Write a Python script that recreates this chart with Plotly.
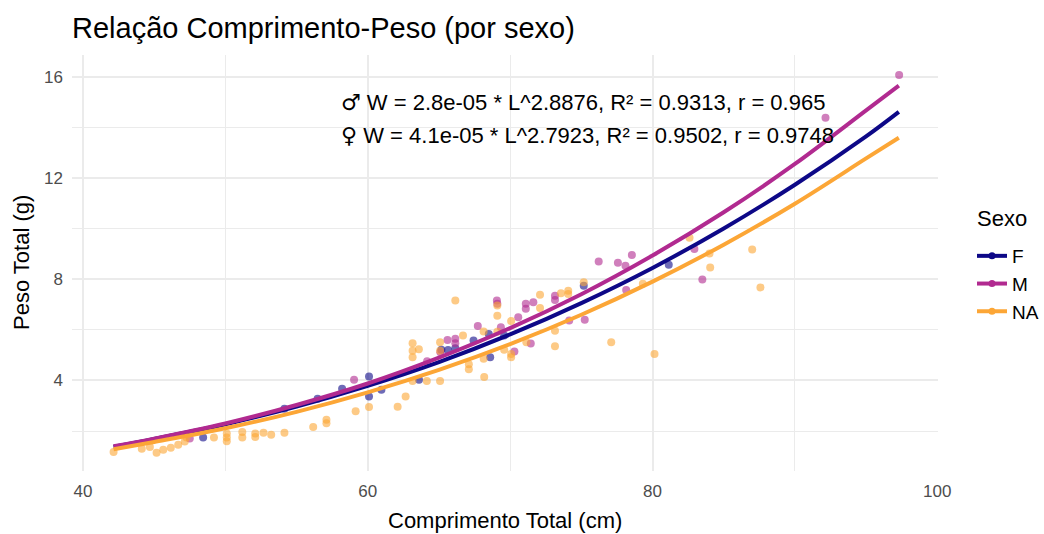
import plotly.graph_objects as go

# ---- data ----
F_x = [48.44, 54.15, 56.48, 58.2, 60.09, 60.09, 60.96, 63.6, 65.17, 65.64,
       66.15, 67.43, 68.5, 68.6, 69.58, 75.17, 81.14]
F_y = [1.74, 2.88, 3.28, 3.67, 4.16, 3.37, 3.63, 4.03, 5.21, 5.2,
       5.27, 5.58, 5.84, 4.92, 5.78, 7.75, 8.58]

M_x = [47.5, 59.04, 64.17, 65.1, 65.6, 66.15, 66.15, 67.73, 69.07, 69.1,
       69.35, 70.3, 70.57, 71.1, 71.1, 71.63, 71.45, 73.15, 73.15, 74.15,
       75.24, 76.22, 77.57, 78.1, 78.55, 78.15, 82.94, 83.5, 92.15, 97.32]
M_y = [1.71, 4.03, 4.76, 5.12, 5.6, 5.65, 5.47, 6.15, 7.16, 7.03,
       6.1, 5.15, 6.5, 7.03, 6.84, 7.09, 5.46, 7.35, 7.18, 6.37,
       6.4, 8.7, 8.65, 8.54, 8.96, 7.58, 9.2, 7.99, 14.39, 16.08]

NA_x = [42.15, 44.13, 44.7, 45.17, 45.64, 46.17, 46.69, 47.15, 47.27, 49.2,
        50.1, 50.1, 50.1, 51.19, 51.19, 52.1, 52.1, 52.68, 53.22, 54.15,
        56.17, 57.1, 57.1, 59.15, 60.09, 62.1, 62.66, 63.15, 63.15, 63.15,
        63.59, 63.15, 64.15, 65.08, 65.08, 65.08, 66.15, 66.69, 67.1, 67.1,
        68.14, 68.14, 68.18, 69.1, 69.1, 69.1, 69.58, 70.07, 70.07, 70.07,
        71.14, 72.1, 72.1, 73.15, 73.15, 73.57, 74.08, 74.08, 75.17, 77.1,
        79.32, 80.14, 82.6, 84.05, 84.0, 87.0, 87.58]
NA_y = [1.17, 1.30, 1.37, 1.14, 1.26, 1.34, 1.46, 1.59, 1.74, 1.74,
        1.9, 1.74, 1.6, 1.96, 1.74, 1.9, 1.76, 1.93, 1.85, 1.93,
        2.16, 2.45, 2.31, 2.78, 2.95, 2.96, 3.37, 5.47, 5.18, 4.92,
        5.23, 3.98, 3.98, 5.51, 5.18, 3.98, 7.16, 5.78, 4.64, 4.44,
        5.94, 4.86, 4.14, 6.96, 6.56, 5.93, 5.21, 6.35, 5.05, 4.92,
        5.51, 7.39, 6.87, 5.97, 5.35, 7.45, 7.55, 7.42, 7.88, 5.51,
        7.82, 5.05, 9.64, 8.47, 9.02, 9.18, 7.68]

# fitted curves
curve_x = [42.15, 45, 50, 55, 60, 65, 70, 75, 80, 85, 90, 95, 97.3]
curve_F = [1.38, 1.69, 2.27, 2.97, 3.79, 4.73, 5.82, 7.06, 8.45, 10.01, 11.74, 13.65, 14.62]
curve_M = [1.40, 1.70, 2.30, 3.03, 3.88, 4.90, 6.07, 7.41, 8.94, 10.65, 12.56, 14.68, 15.66]
curve_NA = [1.28, 1.57, 2.11, 2.76, 3.53, 4.42, 5.44, 6.60, 7.91, 9.37, 10.99, 12.78, 13.6]

labels = ["F", "M", "NA"]
colors = {"F": "#0D0887", "M": "#B12A90", "NA": "#FCA636"}

SYM = "<span style=\"font-family:'DejaVu Sans'\">{}</span>"
eq_male = SYM.format("♂") + " W = 2.8e-05 * L^2.8876, R² = 0.9313, r = 0.965"
eq_female = SYM.format("♀") + " W = 4.1e-05 * L^2.7923, R² = 0.9502, r = 0.9748"

FONT = "Liberation Sans, Arial, DejaVu Sans, sans-serif"
W, H = 1044, 534
ML, MR, MT, MB = 72, 106, 55, 63


def px_to_paper(x, y):
    # container pixel -> paper coords of the plot area
    return (x - ML) / (W - ML - MR), (H - MB - y) / (H - MT - MB)


fig = go.Figure()

points = {"F": (F_x, F_y), "M": (M_x, M_y), "NA": (NA_x, NA_y)}
curves = {"F": curve_F, "M": curve_M, "NA": curve_NA}

for lab in labels:
    px_, py_ = points[lab]
    fig.add_trace(go.Scatter(
        x=px_, y=py_, mode="markers", showlegend=False,
        marker=dict(size=8, color=colors[lab], opacity=0.6, line=dict(width=0)),
    ))

for lab in labels:
    fig.add_trace(go.Scatter(
        x=curve_x, y=curves[lab], mode="lines", showlegend=False,
        line=dict(color=colors[lab], width=4, shape="spline"),
    ))

# legend keys (line + point, as in the original)
for lab in labels:
    fig.add_trace(go.Scatter(
        x=[None], y=[None], mode="lines+markers", name=lab,
        legendgroup=lab,
        line=dict(color=colors[lab], width=4),
        marker=dict(size=7, color=colors[lab]),
    ))

fig.add_annotation(x=57.95, y=15.01, xref="x", yref="y", text=eq_male,
                   showarrow=False, xanchor="left", yanchor="middle",
                   font=dict(family=FONT, size=22, color="#000000"))
fig.add_annotation(x=57.95, y=13.67, xref="x", yref="y", text=eq_female,
                   showarrow=False, xanchor="left", yanchor="middle",
                   font=dict(family=FONT, size=22, color="#000000"))

# axis titles and legend title placed in pixels
ax, ay = px_to_paper(505, 520)
fig.add_annotation(x=ax, y=ay, xref="paper", yref="paper",
                   text="Comprimento Total (cm)", showarrow=False,
                   xanchor="center", yanchor="middle",
                   font=dict(family=FONT, size=22, color="#000000"))
ax, ay = px_to_paper(21, 263)
fig.add_annotation(x=ax, y=ay, xref="paper", yref="paper",
                   text="Peso Total (g)", showarrow=False, textangle=-90,
                   xanchor="center", yanchor="middle",
                   font=dict(family=FONT, size=22, color="#000000"))
ax, ay = px_to_paper(975, 218)
fig.add_annotation(x=ax, y=ay, xref="paper", yref="paper",
                   text="Sexo", showarrow=False,
                   xanchor="left", yanchor="middle",
                   font=dict(family=FONT, size=22, color="#000000"))

lx, ly = px_to_paper(972, 237)

grid = "#EBEBEB"
fig.update_layout(
    width=W, height=H,
    paper_bgcolor="white", plot_bgcolor="white",
    font=dict(family=FONT, color="#000000"),
    margin=dict(l=ML, r=MR, t=MT, b=MB, autoexpand=False),
    title=dict(text="Relação Comprimento-Peso (por sexo)",
               x=72 / W, xanchor="left", xref="container",
               y=1 - 28 / H, yanchor="middle", yref="container",
               font=dict(family=FONT, size=29, color="#000000")),
    xaxis=dict(range=[39.23, 100.05], tick0=0, dtick=20,
               showgrid=True, gridcolor=grid, gridwidth=2.4,
               zeroline=False, showline=False, ticks="", automargin=False,
               ticklabelstandoff=8,
               tickfont=dict(size=17, color="#4D4D4D"),
               minor=dict(dtick=10, showgrid=True, gridcolor=grid, gridwidth=1.3)),
    yaxis=dict(range=[0.42, 16.87], tick0=0, dtick=4,
               showgrid=True, gridcolor=grid, gridwidth=2.4,
               zeroline=False, showline=False, ticks="", automargin=False,
               ticklabelstandoff=8,
               tickfont=dict(size=17, color="#4D4D4D"),
               minor=dict(dtick=2, showgrid=True, gridcolor=grid, gridwidth=1.3)),
    legend=dict(x=lx, xanchor="left", y=ly, yanchor="top",
                font=dict(size=19, color="#000000"),
                traceorder="grouped", tracegroupgap=0,
                bgcolor="rgba(0,0,0,0)", itemwidth=30),
)

# the page body has a default 8px margin; remove it so the figure sits at 0,0
fig.write_html("out.html", config={"displayModeBar": False},
               post_script="document.body.style.margin='0';")
